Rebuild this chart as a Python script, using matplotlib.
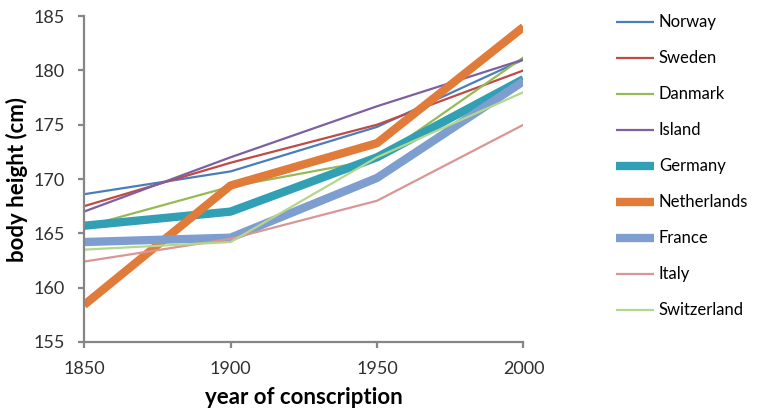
import matplotlib.pyplot as plt

plt.rcParams['font.family'] = ['Lato', 'DejaVu Sans']

years = [1850, 1900, 1950, 2000]

countries = ['Norway', 'Sweden', 'Danmark', 'Island', 'Germany',
             'Netherlands', 'France', 'Italy', 'Switzerland']

norway = [168.6, 170.7, 174.8, 181.0]
sweden = [167.5, 171.5, 175.0, 180.0]
danmark = [165.6, 169.3, 171.8, 181.2]
island = [167.0, 172.0, 176.7, 181.0]
germany = [165.7, 167.0, 172.0, 179.2]
netherlands = [158.4, 169.4, 173.3, 184.0]
france = [164.2, 164.6, 170.1, 179.0]
italy = [162.4, 164.5, 168.0, 175.0]
switzerland = [163.5, 164.2, 172.0, 178.0]

heights = [norway, sweden, danmark, island, germany,
           netherlands, france, italy, switzerland]
colors = ['#4A7EBB', '#BE4B48', '#98B954', '#7D60A0', '#31A0B4',
          '#E07B39', '#7F9ED0', '#D99694', '#B3D78B']
widths = [1.6, 1.6, 1.6, 1.6, 6, 6, 6, 1.6, 1.6]

fig = plt.figure(figsize=(7.59, 4.13), dpi=100)
ax = fig.add_axes([0.1107, 0.172, 0.579, 0.789])

for name, vals, c, lw in zip(countries, heights, colors, widths):
    ax.plot(years, vals, color=c, lw=lw, label=name, solid_capstyle='butt')

ax.set_xlim(1850, 2000)
ax.set_ylim(155, 185)
ax.set_xticks([1850, 1900, 1950, 2000])
ax.set_yticks(range(155, 186, 5))

for side in ['top', 'right']:
    ax.spines[side].set_visible(False)
for side in ['left', 'bottom']:
    ax.spines[side].set_color('#868686')
    ax.spines[side].set_linewidth(1.6)
ax.tick_params(colors='#868686', width=1.6, length=4, labelsize=13,
               labelcolor='#303030')
ax.tick_params(axis='x', pad=10)
ax.tick_params(axis='y', pad=10)

ax.set_xlabel('year of conscription', fontsize=16, fontweight='bold', labelpad=7)
ax.set_ylabel('body height (cm)', fontsize=16, fontweight='bold', labelpad=4)

leg = ax.legend(loc='upper left', bbox_to_anchor=(0.811, 0.965),
                bbox_transform=fig.transFigure, frameon=False, fontsize=12,
                borderpad=0, borderaxespad=0,
                handlelength=2.3, handletextpad=0.3, labelspacing=1.2)

fig.savefig('out.png', dpi=100)
